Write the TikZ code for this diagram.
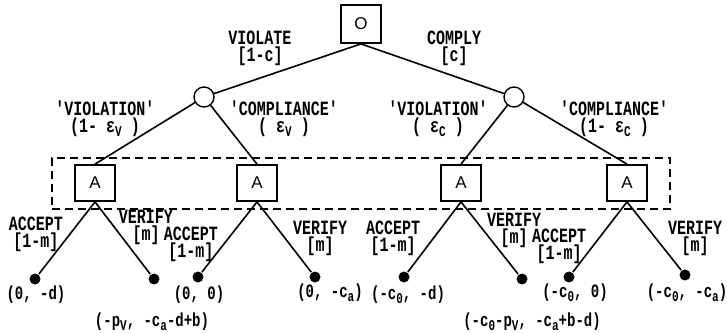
\documentclass[tikz,border=0pt]{standalone}
\usepackage{fontspec}
\usepackage{graphicx}
\newfontfamily\monofam{Liberation Mono}
\newfontfamily\sansfam{Liberation Sans}
\newcommand\lblfont{\monofam\bfseries\fontsize{15}{17}\selectfont\lineskiplimit=-50pt\lineskip=0pt}
\newcommand\payfont{\monofam\bfseries\fontsize{14}{17}\selectfont}
\newcommand\tx[1]{\scalebox{1}[1.35]{#1}}
\newcommand\sbs[1]{\raisebox{-0.35ex}{\fontsize{11}{11}\selectfont #1}}
\begin{document}
\begin{tikzpicture}[x=1pt,y=-1pt,line width=1.6pt,
  dec/.style={draw, line width=1.8pt, minimum width=40pt, minimum height=36pt, inner sep=0, font=\sansfam\fontsize{17}{17}\selectfont},
  chance/.style={draw, circle, line width=1.4pt, minimum size=20pt, inner sep=0},
  leaf/.style={fill, circle, minimum size=11pt, inner sep=0},
  lbl/.style={inner sep=0, align=center, font=\lblfont},
  pay/.style={inner sep=0, font=\payfont}]
\useasboundingbox (0,0) rectangle (727,333);

% information set
\node (info) [draw, line width=1.6pt, dash pattern=on 8pt off 5pt, minimum width=618pt, minimum height=51pt, inner sep=0] at (361,183.5) {};

% nodes
\node[dec, minimum height=38pt] (root) at (361,24) {O};
\node[chance] (cl) at (204,97) {};
\node[chance] (cr) at (514,97) {};
\node[dec, fill=white] (a1) at (95,183) {A};
\node[dec, fill=white] (a2) at (257,183) {A};
\node[dec, fill=white] (a3) at (461,183) {A};
\node[dec, fill=white] (a4) at (627,183) {A};
\node[leaf] (l1) at (35,279) {};
\node[leaf] (l2) at (154,279) {};
\node[leaf] (l3) at (198,277) {};
\node[leaf] (l4) at (315,277) {};
\node[leaf] (l5) at (404,277) {};
\node[leaf] (l6) at (522,279) {};
\node[leaf] (l7) at (569,277) {};
\node[leaf] (l8) at (685,275) {};

% edges
\draw (root.south) -- (cl);
\draw (root.south) -- (cr);
\draw (cl) -- (a1.north);
\draw (cl) -- (a2.north);
\draw (cr) -- (a3.north);
\draw (cr) -- (a4.north);
\draw (a1.south) -- (l1);
\draw (a1.south) -- (l2);
\draw (a2.south) -- (l3);
\draw (a2.south) -- (l4);
\draw (a3.south) -- (l5);
\draw (a3.south) -- (l6);
\draw (a4.south) -- (l7);
\draw (a4.south) -- (l8);

% top labels
\node[lbl] (tv) at (260,48) {\tx{VIOLATE}\\\tx{[1-c]}};
\node[lbl] (tc) at (454,48) {\tx{COMPLY}\\\tx{[c]}};

% middle labels
\node[lbl] (m1) at (105,119) {\tx{'VIOLATION'}\\\tx{(1- ε\sbs{V} )}};
\node[lbl] (m2) at (284,119) {\tx{'COMPLIANCE'}\\\tx{( ε\sbs{V} )}};
\node[lbl] (m3) at (438,119) {\tx{'VIOLATION'}\\\tx{( ε\sbs{C} )}};
\node[lbl] (m4) at (614,119) {\tx{'COMPLIANCE'}\\\tx{(1- ε\sbs{C} )}};

% bottom labels
\node[lbl] (b1) at (36,234) {\tx{ACCEPT}\\\tx{[1-m]}};
\node[lbl] (b2) at (146,227) {\tx{VERIFY}\\\tx{[m]}};
\node[lbl] (b3) at (191,244) {\tx{ACCEPT}\\\tx{[1-m]}};
\node[lbl] (b4) at (320,238) {\tx{VERIFY}\\\tx{[m]}};
\node[lbl] (b5) at (393,238) {\tx{ACCEPT}\\\tx{[1-m]}};
\node[lbl] (b6) at (514,230) {\tx{VERIFY}\\\tx{[m]}};
\node[lbl] (b7) at (559,246) {\tx{ACCEPT}\\\tx{[1-m]}};
\node[lbl] (b8) at (695,238) {\tx{VERIFY}\\\tx{[m]}};

% payoffs
\node[pay] (p1) at (36,295) {\tx{(0, -d)}};
\node[pay] (p2) at (152,322) {\tx{(-p\sbs{V}, -c\sbs{a}-d+b)}};
\node[pay] (p3) at (199,295) {\tx{(0, 0)}};
\node[pay] (p4) at (330,293) {\tx{(0, -c\sbs{a})}};
\node[pay] (p5) at (408,295) {\tx{(-c\sbs{0}, -d)}};
\node[pay] (p6) at (532,322) {\tx{(-c\sbs{0}-p\sbs{V}, -c\sbs{a}+b-d)}};
\node[pay] (p7) at (575,293) {\tx{(-c\sbs{0}, 0)}};
\node[pay] (p8) at (687,293) {\tx{(-c\sbs{0}, -c\sbs{a})}};
\end{tikzpicture}
\end{document}
